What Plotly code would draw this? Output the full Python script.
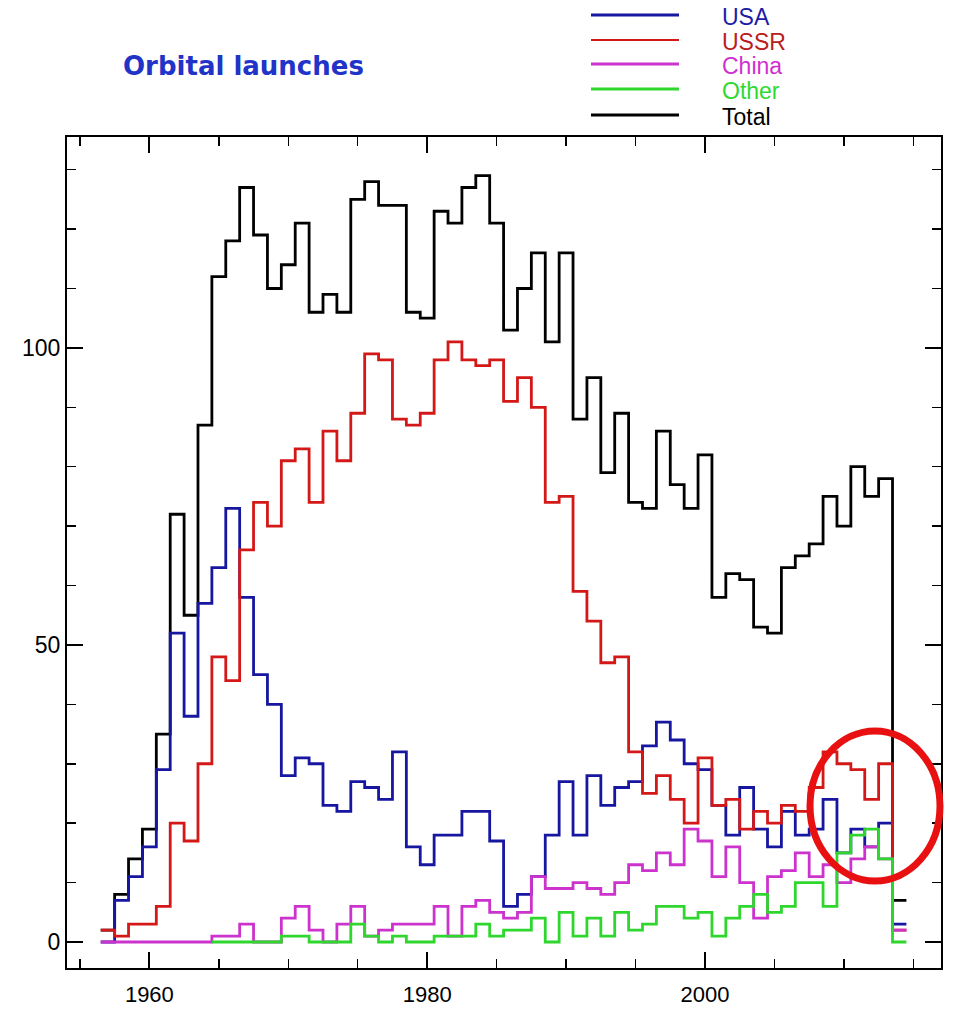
import plotly.graph_objects as go

# ---- data ----
years = list(range(1957, 2015))
usa = [0, 7, 11, 16, 29, 52, 38, 57, 63, 73,
       58, 45, 40, 28, 31, 30, 23, 22, 27, 26,
       24, 32, 16, 13, 18, 18, 22, 22, 17, 6,
       8, 11, 18, 27, 18, 28, 23, 26, 27, 33,
       37, 34, 30, 29, 23, 18, 26, 19, 16, 22,
       18, 19, 24, 15, 19, 16, 20, 3]
ussr = [2, 1, 3, 3, 6, 20, 17, 30, 48, 44,
        66, 74, 70, 81, 83, 74, 86, 81, 89, 99,
        98, 88, 87, 89, 98, 101, 98, 97, 98, 91,
        95, 90, 74, 75, 59, 54, 47, 48, 32, 25,
        28, 24, 20, 31, 23, 24, 19, 22, 20, 23,
        22, 26, 32, 30, 29, 24, 30, 2]
china = [0, 0, 0, 0, 0, 0, 0, 0, 1, 1,
         3, 0, 0, 4, 6, 2, 0, 3, 6, 1,
         2, 3, 3, 3, 6, 1, 6, 7, 5, 4,
         5, 11, 9, 9, 10, 9, 8, 10, 13, 12,
         15, 13, 19, 17, 11, 16, 10, 4, 11, 12,
         15, 11, 13, 10, 14, 16, 14, 2]
other_years = list(range(1965, 2015))
other = [0, 0, 0, 0, 0, 1, 1, 0, 0, 0,
         3, 1, 0, 1, 0, 0, 1, 1, 1, 3,
         1, 2, 2, 4, 0, 5, 1, 4, 1, 5,
         2, 3, 6, 6, 4, 5, 1, 4, 6, 8,
         5, 6, 10, 10, 6, 15, 18, 19, 14, 0]
total = [2, 8, 14, 19, 35, 72, 55, 87, 112, 118,
         127, 119, 110, 114, 121, 106, 109, 106, 125, 128,
         124, 124, 106, 105, 123, 121, 127, 129, 121, 103,
         110, 116, 101, 116, 88, 95, 79, 89, 74, 73,
         86, 77, 73, 82, 58, 62, 61, 53, 52, 63,
         65, 67, 75, 70, 80, 75, 78, 7]

names = ["USA", "USSR", "China", "Other", "Total"]
colors = {"USA": "#1616a0", "USSR": "#d41818", "China": "#cc33cc",
          "Other": "#2ed62e", "Total": "#000000"}
text_colors = {"USA": "#1c1ca6", "USSR": "#b82020", "China": "#d030d0",
               "Other": "#30d830", "Total": "#000000"}


def steps(yrs, vals):
    xs = [y - 0.5 for y in yrs] + [yrs[-1] + 0.5]
    ys = list(vals) + [vals[-1]]
    return xs, ys


series = [("Total", years, total), ("USA", years, usa), ("USSR", years, ussr),
          ("China", years, china), ("Other", other_years, other)]

fig = go.Figure()
for name, yrs, vals in series:
    xs, ys = steps(yrs, vals)
    fig.add_trace(go.Scatter(x=xs, y=ys, mode="lines", name=name,
                             line=dict(color=colors[name], width=2.8, shape="hv"),
                             hoverinfo="skip"))

# plot-area geometry in pixels (for paper placement of legend & circle)
L, R, T, B = 67, 941, 137, 968
W, H = R - L, B - T


def px(x):
    return (x - L) / W


def py(y):
    return (B - y) / H


shapes = []
annotations = []
leg_y = [15, 40, 64, 89, 115]
for name, yy in zip(names, leg_y):
    shapes.append(dict(type="line", xref="paper", yref="paper",
                       x0=px(591), x1=px(679), y0=py(yy), y1=py(yy),
                       line=dict(color=colors[name], width=3 if name != "USSR" else 2)))
    annotations.append(dict(xref="paper", yref="paper", x=px(720), y=py(yy + 2),
                            xanchor="left", yanchor="middle", showarrow=False,
                            text=name,
                            font=dict(family="Liberation Sans, Arial", size=23,
                                      color=text_colors[name])))

annotations.append(dict(xref="paper", yref="paper", x=px(121), y=py(66),
                        xanchor="left", yanchor="middle", showarrow=False,
                        text="<b>Orbital launches</b>",
                        font=dict(family="DejaVu Sans", size=26, color="#2233c8")))

# red highlight circle
shapes.append(dict(type="circle", xref="paper", yref="paper",
                   x0=px(810), x1=px(940), y0=py(881), y1=py(731),
                   line=dict(color="#e81010", width=7)))

axis_common = dict(showline=True, linecolor="black", linewidth=2, mirror="ticks",
                   ticks="inside", ticklen=16, tickwidth=2, tickcolor="black",
                   showgrid=False, zeroline=False, automargin=False)

fig.update_layout(
    width=965, height=1009,
    margin=dict(l=L, r=965 - R, t=T, b=1009 - B, autoexpand=False),
    paper_bgcolor="white", plot_bgcolor="white",
    showlegend=False,
    shapes=shapes, annotations=annotations,
    xaxis=dict(range=[1954.07, 2016.99], tick0=1960, dtick=20,
               minor=dict(tick0=1955, dtick=5, ticks="inside", ticklen=9,
                          tickwidth=1.5, tickcolor="black"),
               ticklabelstandoff=6,
               tickfont=dict(family="Liberation Sans, Arial", size=22, color="black"),
               **axis_common),
    yaxis=dict(range=[-4.38, 135.5], tick0=0, dtick=50,
               minor=dict(tick0=0, dtick=10, ticks="inside", ticklen=9,
                          tickwidth=1.5, tickcolor="black"),
               ticklabelstandoff=0,
               tickfont=dict(family="Liberation Sans, Arial", size=23, color="black"),
               **axis_common),
)

fig.write_html("out.html",
               config={"displayModeBar": False, "staticPlot": True},
               post_script="document.body.style.margin='0';document.body.style.overflow='hidden';")
